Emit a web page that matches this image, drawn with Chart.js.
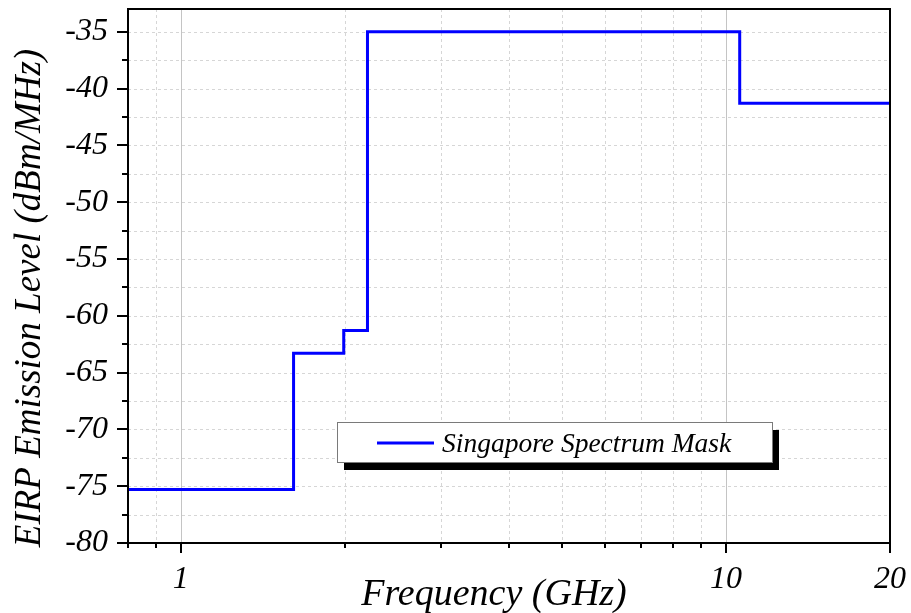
<!DOCTYPE html>
<html>
<head>
<meta charset="utf-8">
<script src="https://cdn.jsdelivr.net/npm/chart.js@4.4.0/dist/chart.umd.min.js"></script>
<style>
html, body { margin: 0; padding: 0; background: #fff; }
</style>
</head>
<body>
<canvas id="mask" width="911" height="613"></canvas>
<script>
// band start frequencies (GHz) and the EIRP level that holds from each one
var freqEdges = [0.8, 1.61, 1.99, 2.2, 10.6, 20];
var eirpLevels = [-75.3, -63.3, -61.3, -35, -41.3, -41.3];
var seriesName = 'Singapore Spectrum Mask';

var xTicks = [0.8, 0.9, 1, 2, 3, 4, 5, 6, 7, 8, 9, 10, 20];
var xLabels = [1, 10, 20];
var yTicks = [-80, -77.5, -75, -72.5, -70, -67.5, -65, -62.5, -60, -57.5, -55, -52.5, -50, -47.5, -45, -42.5, -40, -37.5, -35];
var yLabels = [-80, -75, -70, -65, -60, -55, -50, -45, -40, -35];

var serif = '"Liberation Serif", "Times New Roman", serif';

var points = [];
for (var i = 0; i < freqEdges.length; i++) {
    points.push({x: freqEdges[i], y: eirpLevels[i]});
}

// grid, frame, outward ticks, axis titles and the shadowed legend box
var framePlugin = {
    id: 'frame',
    beforeDatasetsDraw: function(chart) {
        var ctx = chart.ctx, a = chart.chartArea;
        var xs = chart.scales.x, ys = chart.scales.y;
        ctx.save();
        ctx.lineWidth = 1;
        xTicks.forEach(function(v) {
            if (v <= xs.min || v >= xs.max) return;
            var px = Math.round(xs.getPixelForValue(v)) + 0.5;
            if (xLabels.indexOf(v) >= 0) {
                ctx.setLineDash([]);
                ctx.strokeStyle = '#c4c4c4';
            } else {
                ctx.setLineDash([3, 3]);
                ctx.strokeStyle = '#d6d6d6';
            }
            ctx.beginPath();
            ctx.moveTo(px, a.top);
            ctx.lineTo(px, a.bottom);
            ctx.stroke();
        });
        ctx.setLineDash([3, 3]);
        ctx.strokeStyle = '#d6d6d6';
        yTicks.forEach(function(v) {
            if (v <= ys.min) return;
            var py = Math.round(ys.getPixelForValue(v)) + 0.5;
            ctx.beginPath();
            ctx.moveTo(a.left, py);
            ctx.lineTo(a.right, py);
            ctx.stroke();
        });
        ctx.restore();
    },
    afterDatasetsDraw: function(chart) {
        var ctx = chart.ctx, a = chart.chartArea;
        var xs = chart.scales.x, ys = chart.scales.y;
        ctx.save();
        ctx.strokeStyle = '#000';
        ctx.lineWidth = 2;
        ctx.strokeRect(a.left, a.top, a.right - a.left, a.bottom - a.top);

        ctx.beginPath();
        yTicks.forEach(function(v) {
            var py = Math.round(ys.getPixelForValue(v));
            var len = yLabels.indexOf(v) >= 0 ? 11 : 6;
            ctx.moveTo(a.left, py);
            ctx.lineTo(a.left - len, py);
        });
        xTicks.forEach(function(v) {
            var px = Math.round(xs.getPixelForValue(v));
            var len = xLabels.indexOf(v) >= 0 ? 10 : 5;
            ctx.moveTo(px, a.bottom);
            ctx.lineTo(px, a.bottom + len);
        });
        ctx.stroke();

        // axis titles
        ctx.fillStyle = '#000';
        ctx.textAlign = 'center';
        ctx.textBaseline = 'alphabetic';
        ctx.font = 'italic 38px ' + serif;
        ctx.fillText('Frequency (GHz)', 494, 605);
        ctx.save();
        ctx.translate(40, 298);
        ctx.rotate(-Math.PI / 2);
        ctx.font = 'italic 37px ' + serif;
        ctx.fillText('EIRP Emission Level (dBm/MHz)', 0, 0);
        ctx.restore();

        // legend
        var ds = chart.data.datasets[0];
        var w = a.right - a.left, h = a.bottom - a.top;
        var bx = Math.round(a.left + 0.274 * w), by = Math.round(a.top + 0.773 * h);
        var bw = 435, bh = 40;
        ctx.fillStyle = '#000';
        ctx.fillRect(bx + 7, by + 8, bw, bh);
        ctx.fillStyle = '#fff';
        ctx.fillRect(bx, by, bw, bh);
        ctx.lineWidth = 1;
        ctx.strokeStyle = '#7a7a7a';
        ctx.strokeRect(bx + 0.5, by + 0.5, bw, bh);
        ctx.strokeStyle = ds.borderColor;
        ctx.lineWidth = 3;
        ctx.beginPath();
        ctx.moveTo(bx + 40, by + 21);
        ctx.lineTo(bx + 97, by + 21);
        ctx.stroke();
        ctx.fillStyle = '#000';
        ctx.textAlign = 'left';
        ctx.font = 'italic 27.5px ' + serif;
        ctx.fillText(ds.label, bx + 105, by + 30);
        ctx.restore();
    }
};

var chart = new Chart(document.getElementById('mask').getContext('2d'), {
    type: 'line',
    data: {
        datasets: [{
            label: seriesName,
            data: points,
            borderColor: '#0000ff',
            borderWidth: 3,
            stepped: 'before',
            pointRadius: 0,
            fill: false
        }]
    },
    options: {
        responsive: false,
        animation: false,
        layout: { padding: { top: 9, right: 21, left: 0, bottom: 0 } },
        plugins: {
            legend: { display: false },
            tooltip: { enabled: false }
        },
        scales: {
            x: {
                type: 'logarithmic',
                min: 0.8,
                max: 20,
                grid: { display: false },
                border: { display: false },
                afterBuildTicks: function(s) {
                    s.ticks = xTicks.map(function(v) { return {value: v}; });
                },
                afterFit: function(s) {
                    s.height = 70;
                    s.paddingLeft = 0;
                    s.paddingRight = 0;
                },
                ticks: {
                    autoSkip: false,
                    maxRotation: 0,
                    padding: 9,
                    color: '#000',
                    font: { family: serif, size: 32, style: 'italic' },
                    callback: function(v) {
                        return xLabels.indexOf(v) >= 0 ? String(v) : '';
                    }
                }
            },
            y: {
                type: 'linear',
                min: -80,
                max: -33,
                grid: { display: false },
                border: { display: false },
                afterBuildTicks: function(s) {
                    s.ticks = yTicks.map(function(v) { return {value: v}; });
                },
                afterFit: function(s) {
                    s.width = 128;
                    s.paddingTop = 0;
                    s.paddingBottom = 0;
                },
                ticks: {
                    autoSkip: false,
                    padding: 12,
                    color: '#000',
                    font: { family: serif, size: 32, style: 'italic' },
                    callback: function(v) {
                        return yLabels.indexOf(v) >= 0 ? String(v) : '';
                    }
                }
            }
        }
    },
    plugins: [framePlugin]
});
</script>
</body>
</html>
